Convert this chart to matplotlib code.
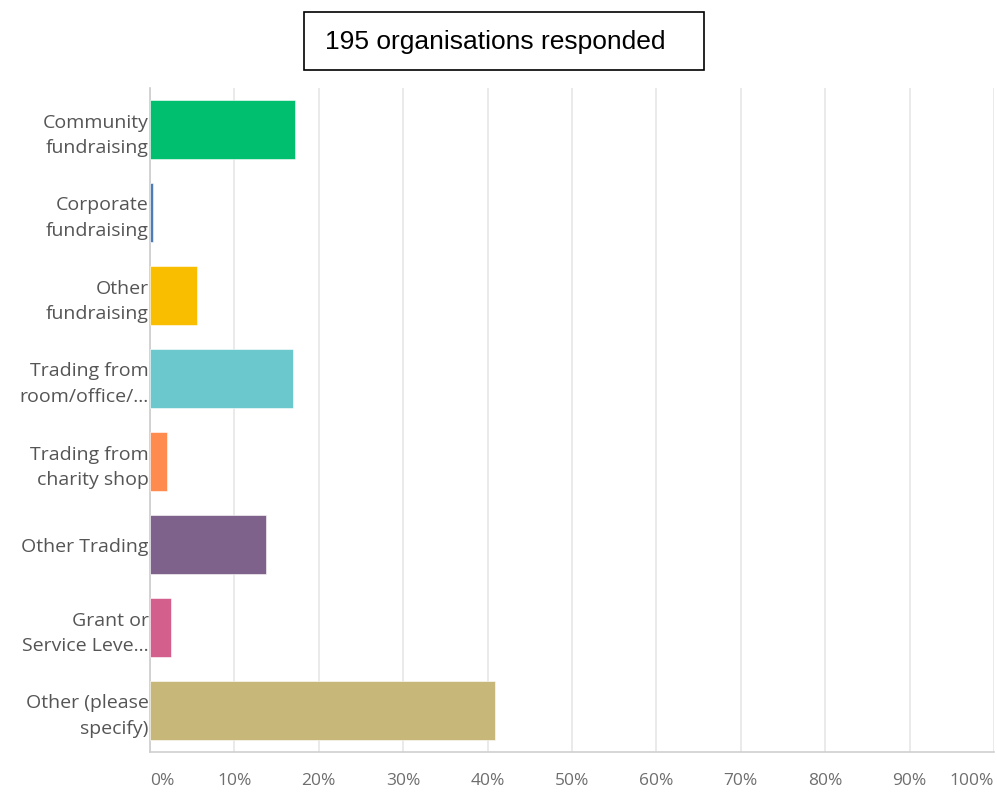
import matplotlib
matplotlib.use("Agg")
import matplotlib.pyplot as plt
from matplotlib.patches import Rectangle

categories = ["Community\nfundraising", "Corporate\nfundraising", "Other\nfundraising",
              "Trading from\nroom/office/...", "Trading from\ncharity shop", "Other Trading",
              "Grant or\nService Leve...", "Other (please\nspecify)"]
values = [17.2, 0.3, 5.6, 16.9, 2.05, 13.8, 2.5, 40.9]
colors = ["#00BF6F", "#507CB6", "#F9BE00", "#6BC8CD", "#FF8B4F", "#7F628B", "#D35F8D", "#C7B879"]
ticks = list(range(0, 101, 10))
tick_labels = [f"{t}%" for t in ticks]
title = "195 organisations responded"

W, H = 997, 792
fig = plt.figure(figsize=(W/100, H/100), dpi=100)
ax = fig.add_axes([150/W, 1-752/H, (994-150)/W, (752-88)/H])

y = list(range(len(categories)))
ax.barh(y, values, height=0.71, color=colors, edgecolor="white", linewidth=0.4, zorder=3)
ax.set_ylim(len(categories)-0.5, -0.5)
ax.set_xlim(0, 100)
ax.set_xticks(ticks)
ax.set_xticklabels(tick_labels, fontsize=12.5, color="#6e6e6e", family="Open Sans")
lbls = ax.get_xticklabels()
lbls[0].set_ha("left")
lbls[-1].set_ha("right")
ax.tick_params(axis="x", length=0, pad=15)
ax.set_yticks(y)
ax.set_yticklabels(categories, fontsize=14, color="#555555", family="Open Sans", linespacing=1.55)
ax.tick_params(axis="y", length=0, pad=1)
ax.grid(axis="x", color="#e6e6e6", linewidth=1.2, zorder=0)
for s in ["top", "right"]:
    ax.spines[s].set_visible(False)
ax.spines["left"].set_color("#cccccc")
ax.spines["bottom"].set_color("#cfcfcf")
ax.spines["left"].set_linewidth(1.2)
ax.spines["bottom"].set_linewidth(1.2)

fig.patches.append(Rectangle((304/W, 1-70/H), 400/W, 58/H, transform=fig.transFigure,
                             fill=False, edgecolor="black", linewidth=1.2))
fig.text(325/W, 1-42/H, title, fontsize=19, family="Liberation Sans", va="center", ha="left", color="black")

fig.savefig("out.png", dpi=100, facecolor="white")
